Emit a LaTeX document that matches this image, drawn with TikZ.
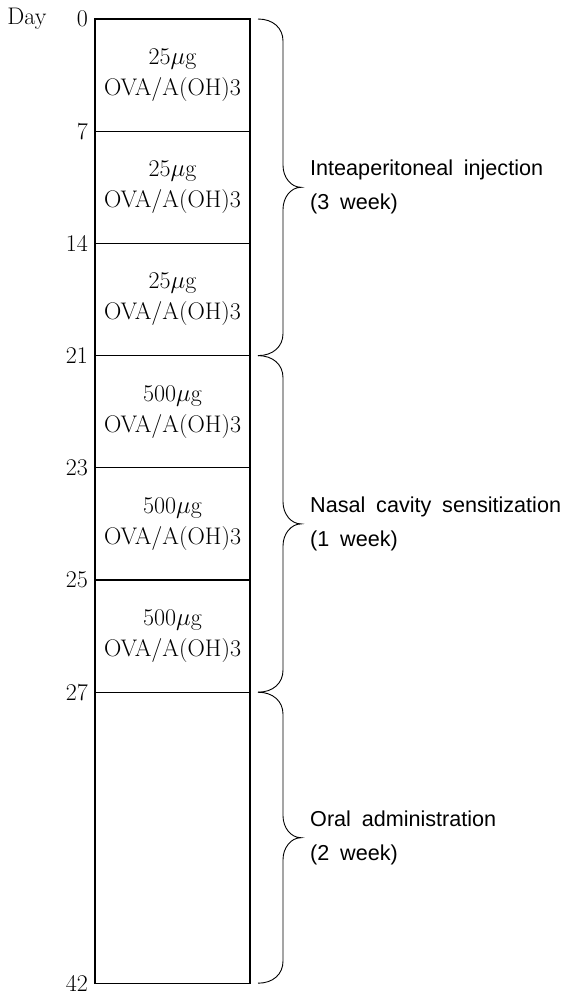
\documentclass[tikz,border=0pt]{standalone}
\usepackage{fontspec}
\newfontfamily\wkfont[WordSpace=1.8]{Liberation Sans}
\usetikzlibrary{positioning,calc}

% curly brace from top point to bottom point, tip named #3
\newcommand{\wkbrace}[3]{%
  \draw[brc] (#1) .. controls +(15,0) and +(0,13) .. ++(25,-22)
    -- ($(#1)!.5!(#2)+(25,22)$) .. controls +(0,-12) and +(-10,0) .. ($(#1)!.5!(#2)+(43,0)$) coordinate (#3)
    .. controls +(-10,0) and +(0,12) .. ($(#1)!.5!(#2)+(25,-22)$)
    -- ($(#2)+(25,22)$) .. controls +(0,-13) and +(15,0) .. (#2);}

\begin{document}
\begin{tikzpicture}[x=1pt,y=1pt,node distance=0pt,
  seg/.style={draw,line width=1.1pt,minimum width=155pt,minimum height=112.2pt,inner sep=0pt,outer sep=0pt,align=center,font=\fontsize{24}{31}\selectfont},
  daylbl/.style={font=\fontsize{24}{28}\selectfont,inner sep=0pt},
  wklbl/.style={font=\wkfont\fontsize{21.6}{34}\selectfont,align=left,anchor=west,inner sep=0pt},
  brc/.style={line width=0.9pt}]
\useasboundingbox (0,0) rectangle (567,-994);

% dosing column
\node[seg,anchor=north west] (s1) at (95,-19) {25$\mu$g\\OVA/A(OH)3};
\node[seg,below=of s1] (s2) {25$\mu$g\\OVA/A(OH)3};
\node[seg,below=of s2] (s3) {25$\mu$g\\OVA/A(OH)3};
\node[seg,below=of s3] (s4) {500$\mu$g\\OVA/A(OH)3};
\node[seg,below=of s4] (s5) {500$\mu$g\\OVA/A(OH)3};
\node[seg,below=of s5] (s6) {500$\mu$g\\OVA/A(OH)3};
\node[seg,below=of s6,minimum height=291pt] (s7) {};

% day marks
\node[daylbl,left=7pt of s1.north west] (d0) {0};
\node[daylbl,left=30pt of d0] (day) {Day};
\node[daylbl,left=7pt of s2.north west] (d7) {7};
\node[daylbl,left=7pt of s3.north west] (d14) {14};
\node[daylbl,left=7pt of s4.north west] (d21) {21};
\node[daylbl,left=7pt of s5.north west] (d23) {23};
\node[daylbl,left=7pt of s6.north west] (d25) {25};
\node[daylbl,left=7pt of s7.north west] (d27) {27};
\node[daylbl,left=7pt of s7.south west] (d42) {42};

% periods
\coordinate (b0) at ($(s1.north east)+(8,0)$);
\coordinate (b1) at ($(s3.south east)+(8,0)$);
\coordinate (b2) at ($(s6.south east)+(8,0)$);
\coordinate (b3) at ($(s7.south east)+(8,0)$);
\wkbrace{b0}{b1}{t1}
\wkbrace{b1}{b2}{t2}
\wkbrace{b2}{b3}{t3}
\node[wklbl] (w1) at ($(t1)+(9,0)$) {Inteaperitoneal injection\\(3 week)};
\node[wklbl] (w2) at ($(t2)+(9,0)$) {Nasal cavity sensitization\\(1 week)};
\node[wklbl] (w3) at ($(t3)+(9,0)$) {Oral administration\\(2 week)};
\end{tikzpicture}
\end{document}
